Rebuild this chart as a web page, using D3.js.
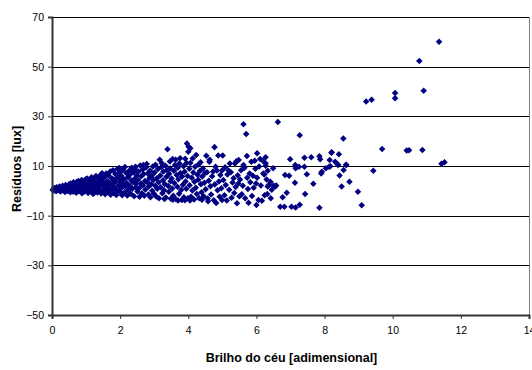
<!DOCTYPE html>
<html><head><meta charset="utf-8">
<script src="https://cdn.jsdelivr.net/npm/d3@7"></script>
<style>body{margin:0;background:#fff}svg{display:block}</style>
</head><body><svg id="c" width="532" height="370"></svg>
<script>
const xTicks = [0,2,4,6,8,10,12,14];
const yTicks = [-50,-30,-10,10,30,50,70];
const xTitle = "Brilho do céu [adimensional]";
const yTitle = "Resíduos [lux]";
// [brilho, resíduo]
const pontos = [
[0.02,0.3],[0.05,0.8],[0.06,0.1],[0.08,1.1],[0.1,0.5],[0.12,-0.2],[0.14,1.4],[0.15,0.7],[0.18,0.2],[0.2,1.0],[0.22,1.7],[0.24,0.4],[0.25,-0.3],[0.27,1.2],[0.3,0.8],[0.31,2.0],[0.33,0.1],[0.35,1.5],[0.37,0.6],[0.38,-0.5],[0.4,2.3],[0.41,1.0],[0.43,0.3],[0.45,1.8],[0.46,-0.1],[0.48,0.9],[0.5,2.6],[0.5,1.3],
[0.52,0.2],[0.54,-0.6],[0.55,3.0],[0.57,1.7],[0.58,0.5],[0.6,2.2],[0.62,-0.4],[0.63,3.5],[0.65,1.0],[0.66,0.0],[0.68,2.7],[0.7,1.5],[0.71,-0.8],[0.73,3.7],[0.74,0.7],[0.76,2.0],[0.78,4.0],[0.79,-0.2],[0.8,1.2],[0.82,3.0],[0.84,0.4],[0.85,2.4],[0.87,4.4],[0.88,-1.0],[0.9,1.8],[0.92,3.4],[0.93,0.9],[0.95,-0.3],[0.96,2.8],[0.98,4.6],[0.99,1.4],
[1.01,0.3],[1.03,5.0],[1.04,2.1],[1.06,-0.9],[1.08,3.3],[1.09,1.0],[1.11,4.2],[1.13,-0.2],[1.14,2.6],[1.16,5.5],[1.18,0.6],[1.19,3.8],[1.21,-1.3],[1.23,1.6],[1.24,4.8],[1.26,2.9],[1.28,0.0],[1.29,6.0],[1.31,2.2],[1.33,-0.7],[1.34,3.6],[1.36,1.2],[1.38,5.2],[1.39,0.4],[1.41,2.7],[1.43,6.5],[1.44,-1.1],[1.46,4.3],[1.47,7.1],[1.49,1.7],
[1.51,3.1],[1.52,0.2],[1.54,5.6],[1.56,-1.4],[1.57,2.4],[1.59,7.0],[1.61,0.9],[1.62,4.0],[1.64,-0.5],[1.66,6.2],[1.67,1.9],[1.69,3.3],[1.71,7.8],[1.72,-1.6],[1.74,0.5],[1.76,5.0],[1.77,2.8],[1.79,8.3],[1.81,-0.9],[1.82,4.6],[1.84,1.3],[1.86,6.8],[1.87,3.7],[1.89,-1.7],[1.91,0.1],[1.92,8.8],[1.94,5.4],[1.96,2.2],[1.97,9.2],[1.99,-0.4],[1.99,7.3],
[2.01,3.9],[2.03,1.0],[2.04,6.0],[2.06,-1.8],[2.08,8.4],[2.09,2.5],[2.11,4.7],[2.13,-0.6],[2.14,9.6],[2.16,1.7],[2.18,7.2],[2.19,3.2],[2.21,-1.9],[2.23,5.5],[2.24,0.3],[2.26,8.0],[2.28,2.0],[2.29,6.6],[2.31,-1.2],[2.33,4.2],[2.34,9.3],[2.36,0.8],[2.38,3.5],[2.39,7.5],[2.41,-2.2],[2.43,8.8],[2.44,5.1],[2.46,1.4],[2.47,2.9],[2.49,6.3],[2.45,9.7],
[2.51,-0.3],[2.52,4.5],[2.54,7.8],[2.56,1.1],[2.57,-2.4],[2.59,10.2],[2.61,3.0],[2.62,5.9],[2.64,-1.0],[2.66,8.6],[2.67,2.2],[2.69,6.8],[2.68,10.4],[2.71,-2.0],[2.73,4.0],[2.74,0.5],[2.76,9.4],[2.78,10.8],[2.79,3.6],[2.81,7.0],[2.83,-1.5],[2.84,1.7],[2.86,5.2],[2.88,8.1],[2.89,-2.6],[2.91,2.7],[2.93,6.1],[2.94,0.0],[2.96,9.8],[2.98,4.4],[2.99,-1.2],
[3.01,7.4],[3.03,2.0],[3.04,10.5],[3.06,-2.3],[3.08,5.1],[3.09,0.8],[3.11,8.8],[3.13,3.5],[3.14,-3.0],[3.16,12.5],[3.18,6.2],[3.19,1.4],[3.21,9.6],[3.22,11.2],[3.24,-1.0],[3.26,4.3],[3.27,7.8],[3.29,0.2],[3.31,2.8],[3.33,10.1],[3.34,-2.7],[3.36,5.7],[3.38,8.3],[3.39,16.7],[3.41,1.9],[3.43,-0.4],[3.44,6.9],[3.46,11.8],[3.48,3.9],[3.49,-3.2],[3.47,9.0],[3.3,-3.3],
[3.51,5.0],[3.53,0.9],[3.54,12.8],[3.56,-2.0],[3.58,8.1],[3.59,3.2],[3.61,10.4],[3.63,12.5],[3.64,-3.4],[3.66,6.4],[3.68,1.6],[3.69,9.3],[3.71,4.7],[3.73,-1.2],[3.74,11.0],[3.76,13.1],[3.77,7.2],[3.79,0.3],[3.81,-3.7],[3.82,5.8],[3.84,2.4],[3.86,9.9],[3.87,-2.6],[3.89,7.7],[3.91,12.9],[3.92,3.8],[3.94,0.8],[3.95,11.2],[3.96,19.1],[3.98,6.0],[3.99,-3.0],[4.0,15.7],[3.55,-3.6],[3.7,-3.9],[3.9,-3.8],
[4.01,17.8],[4.03,8.9],[4.04,2.2],[4.06,17.1],[4.06,11.2],[4.08,-2.4],[4.1,5.3],[4.12,0.1],[4.13,13.0],[4.15,7.4],[4.17,-3.5],[4.18,3.7],[4.2,9.7],[4.23,14.4],[4.22,1.2],[4.25,-1.3],[4.27,6.5],[4.29,4.5],[4.3,10.6],[4.32,-3.0],[4.34,8.0],[4.36,11.5],[4.37,2.7],[4.39,-0.6],[4.41,5.8],[4.43,9.0],[4.45,-2.2],[4.47,3.3],[4.49,7.2],[4.05,-3.9],[4.4,-3.6],
[4.51,0.6],[4.53,14.1],[4.55,7.5],[4.57,-3.1],[4.6,4.1],[4.62,11.7],[4.63,12.5],[4.65,1.8],[4.67,-1.5],[4.7,5.9],[4.73,7.8],[4.75,-3.8],[4.77,17.6],[4.78,2.6],[4.8,9.7],[4.82,-4.9],[4.84,8.2],[4.86,0.2],[4.88,14.2],[4.9,3.8],[4.92,-2.4],[4.94,6.4],[4.97,1.0],[4.99,8.2],[4.99,-3.7],[4.58,-4.2],
[5.01,14.2],[5.03,4.4],[5.06,-1.8],[5.08,9.5],[5.1,2.3],[5.13,-3.9],[5.15,6.6],[5.18,8.2],[5.2,0.4],[5.22,11.0],[5.25,7.5],[5.27,-2.8],[5.3,3.4],[5.33,5.1],[5.35,-0.9],[5.37,11.0],[5.39,1.5],[5.41,11.9],[5.43,-5.0],[5.45,6.3],[5.48,12.4],[5.47,3.0],[5.5,-2.2],
[5.52,4.6],[5.55,8.3],[5.57,-1.4],[5.6,2.0],[5.62,26.8],[5.62,10.4],[5.65,9.3],[5.67,-3.0],[5.7,22.9],[5.72,14.0],[5.73,5.3],[5.75,0.7],[5.77,-4.8],[5.8,7.0],[5.82,3.5],[5.85,11.7],[5.87,-2.1],[5.9,6.1],[5.92,1.2],[5.95,12.1],[5.97,8.9],[6.0,-5.7],[5.99,3.0],
[6.02,15.1],[6.02,5.3],[6.06,-3.7],[6.08,9.8],[6.11,12.8],[6.13,2.1],[6.16,-4.0],[6.19,12.1],[6.2,7.0],[6.23,6.6],[6.24,-1.8],[6.27,13.5],[6.27,11.1],[6.27,10.1],[6.32,-1.3],[6.33,8.1],[6.36,2.3],[6.41,3.7],[6.49,9.1],[6.5,2.1],[6.55,1.7],[6.58,2.1],[6.42,-3.0],[6.3,4.6],[6.45,0.4],[6.33,1.7],
[6.63,27.7],[6.7,-6.4],[6.77,-2.6],[6.82,-6.4],[6.84,6.4],[6.89,-0.8],[6.96,6.1],[6.99,12.7],[7.03,-6.4],[7.13,3.3],[7.14,10.4],[7.15,9.1],[7.15,-6.7],[7.25,9.7],[7.27,22.4],[7.27,-5.6],[7.41,13.3],[7.41,9.7],[7.43,-1.3],[7.48,6.7],[7.61,13.5],[7.67,2.9],[7.85,13.9],[7.85,-6.8],[7.87,12.7],[7.9,7.0],[7.92,7.7],
[8.04,9.1],[8.13,9.7],[8.15,12.4],[8.17,9.9],[8.2,15.3],[8.21,15.5],[8.31,11.7],[8.38,10.7],[8.42,14.7],[8.4,10.4],[8.63,10.5],[8.64,10.4],[8.56,8.4],[8.44,6.2],[8.73,3.7],[8.5,1.7],[8.98,-0.4],[9.09,-5.8],[8.55,21.1],
[9.43,8.1],[9.69,16.8],[10.41,16.2],[10.48,16.3],[10.87,16.4],[11.43,10.9],[11.52,11.5],[9.22,36.0],[9.38,36.7],[10.07,37.3],[10.07,39.4],[10.91,40.3],[10.78,52.3],[11.36,60.0]
];

const svg = d3.select("#c");
const L = 52, R = 529, T = 17, B = 315;
const x = d3.scaleLinear().domain([0,14]).range([L,R]);
const y = d3.scaleLinear().domain([-50,70]).range([B,T]);

// gridlines
svg.append("g").selectAll("line").data(yTicks).join("line")
  .attr("x1",L).attr("x2",R).attr("y1",d=>Math.round(y(d))+0.5).attr("y2",d=>Math.round(y(d))+0.5)
  .attr("stroke","#000").attr("stroke-width",1);
// right border
svg.append("line").attr("x1",R+0.5).attr("x2",R+0.5).attr("y1",T).attr("y2",B)
  .attr("stroke","#808080").attr("stroke-width",1);

// points
const sym = d3.symbol().type(d3.symbolDiamond2).size(27);
svg.append("g").selectAll("path").data(pontos).join("path")
  .attr("d",sym).attr("transform",d=>`translate(${x(d[0])},${y(d[1])})`)
  .attr("fill","#000080");

// axes
const ax = svg.append("g").attr("transform",`translate(0,${B})`)
  .call(d3.axisBottom(x).tickValues(xTicks).tickSize(4).tickPadding(8).tickFormat(d3.format("d")));
const ay = svg.append("g").attr("transform",`translate(${L},0)`)
  .call(d3.axisLeft(y).tickValues(yTicks).tickSize(4).tickPadding(4).tickFormat(d3.format("d")));
[ax,ay].forEach(g=>{
  g.select(".domain").attr("stroke","#333").attr("stroke-width",2);
  g.selectAll(".tick line").attr("stroke","#333");
  g.selectAll("text").attr("font-family","'Liberation Sans', Arial, sans-serif").attr("font-size","10.5px").attr("fill","#000");
});

svg.append("text").attr("x",(L+R)/2+1).attr("y",362).attr("text-anchor","middle")
  .attr("font-family","'Liberation Sans', Arial, sans-serif").attr("font-weight","bold").attr("font-size","12.5px")
  .text(xTitle);
svg.append("text").attr("transform",`translate(21,${169}) rotate(-90)`).attr("text-anchor","middle")
  .attr("font-family","'Liberation Sans', Arial, sans-serif").attr("font-weight","bold").attr("font-size","12.5px")
  .text(yTitle);
</script></body></html>
